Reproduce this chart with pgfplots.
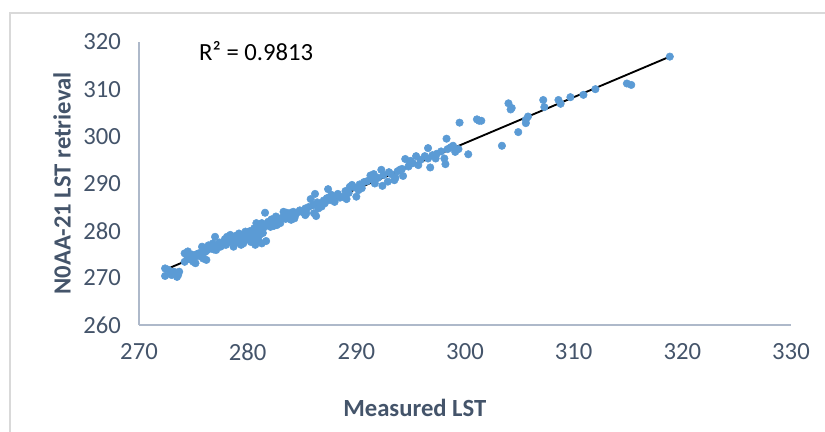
\documentclass[border=0pt]{standalone}
\usepackage{pgfplots}
\pgfplotsset{compat=1.18}
\usepackage{pgfplotstable}
\usepackage{fontspec}
\setmainfont{Carlito}
\definecolor{ptblue}{RGB}{91,155,213}
\definecolor{axgray}{RGB}{174,185,202}
\definecolor{txtc}{RGB}{68,84,106}
\definecolor{bordgray}{RGB}{217,217,217}
\pgfplotstableread{
x y
272.4 272.0
272.7 271.7
272.4 270.4
273.2 271.3
273.5 271.0
273.6 270.6
273.0 270.6
273.5 270.2
273.7 271.3
274.4 274.8
274.5 274.1
274.2 273.4
274.8 273.8
275.2 273.1
274.5 275.6
274.2 275.2
275.0 273.4
275.2 274.5
275.5 275.2
275.8 276.6
276.1 275.5
275.9 274.1
276.2 273.8
276.5 276.6
277.0 278.7
276.8 277.3
277.1 275.9
277.5 276.6
277.8 277.3
278.1 278.7
278.4 279.1
278.2 278.0
278.7 276.6
278.8 277.7
279.1 278.4
279.5 279.1
279.6 277.3
279.8 279.8
280.1 279.4
280.4 278.7
280.7 278.4
280.7 280.1
281.0 280.8
281.3 281.2
280.8 281.6
281.0 278.0
281.3 277.3
280.7 277.0
281.6 283.8
281.7 277.8
280.8 278.7
281.1 279.1
281.3 281.6
281.9 281.9
282.1 280.8
282.5 282.3
282.8 282.6
283.0 281.6
282.7 281.2
283.6 283.8
283.7 283.0
284.0 282.3
284.2 284.0
284.4 283.3
285.3 284.7
285.4 283.7
285.3 283.3
286.1 283.7
286.3 283.1
286.2 287.8
285.8 286.7
286.5 284.7
286.8 285.1
287.1 285.8
287.4 288.8
287.7 287.6
287.9 287.1
288.0 286.1
288.8 287.2
289.1 286.7
289.4 289.3
289.6 289.7
289.8 289.2
290.0 287.2
290.2 288.6
290.5 289.0
291.3 291.7
291.6 292.0
291.7 290.0
292.3 292.9
292.5 291.8
292.4 289.5
292.9 290.4
293.2 292.0
293.5 290.7
293.6 291.2
294.2 293.1
294.3 291.6
294.5 295.2
294.8 293.6
294.9 294.1
295.2 294.3
295.5 295.8
295.7 293.9
296.6 297.5
296.6 295.3
296.8 293.4
297.3 295.3
297.4 296.3
298.1 295.3
298.2 294.1
298.3 299.5
298.4 297.3
298.9 298.0
299.1 296.7
299.4 297.3
299.5 302.9
300.3 296.2
301.1 303.6
301.5 303.3
301.3 303.3
303.4 298.0
304.9 300.9
305.6 303.5
305.6 302.8
305.8 304.2
304.0 307.0
304.3 306.0
304.2 305.7
307.2 307.7
307.3 306.2
308.6 307.7
308.8 306.9
309.7 308.3
310.9 308.8
312.0 310.0
314.9 311.2
315.3 310.9
318.85 316.9
274.6 274.3
274.9 274.9
275.3 275.0
275.6 274.6
275.8 275.3
276.0 276.2
276.3 275.9
276.4 276.9
276.7 276.2
276.9 276.0
277.2 276.9
277.4 277.5
277.6 276.8
277.9 278.2
278.0 277.0
278.3 277.6
278.5 278.5
278.6 277.9
278.9 278.9
279.0 277.5
279.2 279.4
279.3 278.0
279.4 277.0
279.7 278.5
279.9 278.2
280.0 279.0
280.2 279.9
280.3 277.6
280.5 279.5
280.6 280.5
280.9 279.8
281.2 280.1
281.4 279.5
281.5 280.7
281.8 281.2
282.0 281.5
282.2 282.4
282.4 281.0
282.6 283.0
282.9 282.0
283.2 282.8
283.3 284.0
283.5 282.5
283.8 282.9
284.0 283.8
284.3 282.6
284.6 283.9
284.8 284.3
285.0 284.0
285.6 285.0
286.0 285.4
286.4 286.0
286.7 285.6
287.0 286.4
287.3 286.9
287.6 286.5
288.3 287.8
288.5 287.0
289.0 288.4
289.3 288.0
290.3 289.8
290.7 290.3
291.0 290.5
291.5 290.9
292.0 291.2
293.0 292.4
293.8 292.6
294.0 292.9
295.0 294.8
295.9 295.0
296.3 295.8
297.0 296.0
297.8 296.8
298.7 297.7
}\pts
\begin{document}
\begin{tikzpicture}[x=0.75pt,y=0.75pt]
\path[use as bounding box] (0,0) rectangle (825,432);
\draw[bordgray, line width=1pt] (10,0) -- (10,419) -- (825,419);
\begin{axis}[
  at={(104.25pt,80.25pt)}, anchor=south west,
  scale only axis, width=489pt, height=212.25pt,
  xmin=270, xmax=330, ymin=260, ymax=320,
  xtick={270,280,...,330}, ytick={260,270,...,320},
  axis x line*=bottom, axis y line*=left,
  axis line style={draw=axgray, line width=1.2pt},
  tick style={draw=none},
  tick label style={font=\fontsize{18.5}{22}\selectfont, color=txtc},
  /pgf/number format/assume math mode=true,
  /pgf/number format/set thousands separator={},
  xticklabel style={yshift=-10.5pt},
  yticklabel style={xshift=-10pt},
  xlabel={Measured LST},
  ylabel={N0AA-21 LST retrieval},
  xlabel style={at={(axis description cs:0.423,-0.293)}, anchor=center, font=\fontsize{18.5}{22}\selectfont\bfseries, color=txtc},
  ylabel style={at={(axis description cs:-0.118,0.5)}, anchor=center, rotate=0, font=\fontsize{18.5}{22}\selectfont\bfseries, color=txtc},
  clip=false,
]
\addplot[only marks, mark=*, mark size=2.8pt, mark options={fill=ptblue, draw=ptblue}] table[x=x,y=y] {\pts};
\addplot[black, line width=1.4pt] coordinates {(272.4,271.7) (318.85,316.9)};
\node[anchor=base west, font=\fontsize{18.5}{22}\selectfont, inner sep=0pt] at (axis description cs:0.092,0.933) {R² = 0.9813};
\end{axis}
\end{tikzpicture}
\end{document}
